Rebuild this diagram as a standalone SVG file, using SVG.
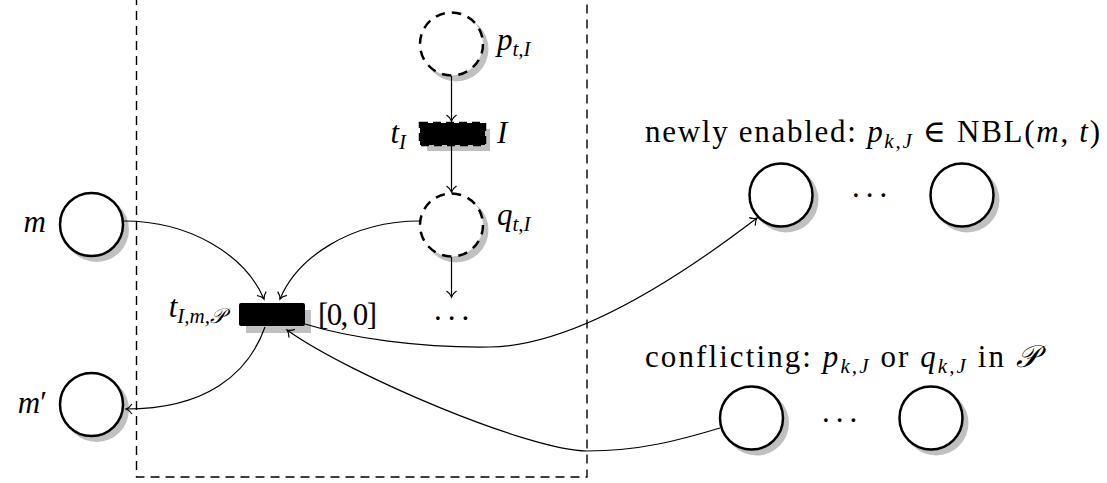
<svg xmlns="http://www.w3.org/2000/svg" width="1107" height="483" viewBox="0 0 1107 483">
<style>
text{font-family:"Liberation Serif","DejaVu Serif",serif;font-size:31px;fill:#000}
.it{font-style:italic}
.sub{font-size:21px;font-style:italic}
.end{text-anchor:end}
.place{fill:#fff;stroke:#000;stroke-width:2.5}
.dplace{fill:#fff;stroke:#000;stroke-width:2.5;stroke-dasharray:9.5 7}
.shadow{fill:#c0c0c0;stroke:none}
.edge{fill:none;stroke:#000;stroke-width:1.2;marker-end:url(#to)}
.box{fill:none;stroke:#000;stroke-width:1.4;stroke-dasharray:9 6}
.dots{letter-spacing:6px}
</style>
<defs>
<marker id="to" viewBox="-8 -7 10 14" refX="0" refY="0" markerWidth="10" markerHeight="14" markerUnits="userSpaceOnUse" orient="auto">
<path d="M-6,-5 C-4,-2 -1.5,-0.5 0,0 C-1.5,0.5 -4,2 -6,5" fill="none" stroke="#000" stroke-width="1.2"/>
</marker>
</defs>
<rect class="box" x="136.5" y="-10" width="450.5" height="487"/>

<g id="p_tI">
<circle class="shadow" cx="456" cy="49" r="32.5"/>
<circle class="dplace" cx="451.5" cy="44" r="31.5"/>
<text x="497" y="50"><tspan class="it">p</tspan><tspan class="sub" dy="6">t,I</tspan></text>
</g>
<g id="t_I">
<rect class="shadow" x="427" y="129" width="63" height="22"/>
<rect x="420" y="123" width="65" height="22" fill="#000" stroke="#000" stroke-width="2.5" stroke-dasharray="8 5"/>
<text x="406" y="143" class="end"><tspan class="it">t</tspan><tspan class="sub" dy="6">I</tspan></text>
<text x="497" y="143" class="it">I</text>
</g>
<g id="q_tI">
<circle class="shadow" cx="456" cy="230" r="32.5"/>
<circle class="dplace" cx="451.5" cy="225" r="31.5"/>
<text x="497" y="225"><tspan class="it">q</tspan><tspan class="sub" dy="6">t,I</tspan></text>
</g>
<g id="dots_q">
<text x="434" y="320" class="dots">...</text>
</g>
<g id="m">
<circle class="shadow" cx="96.5" cy="229.5" r="32.5"/>
<circle class="place" cx="91.5" cy="224.5" r="31.5"/>
<text x="46" y="232" class="it end">m</text>
</g>
<g id="m_prime">
<circle class="shadow" cx="96.5" cy="409.5" r="32.5"/>
<circle class="place" cx="91.5" cy="404.5" r="31.5"/>
<text x="47" y="413" class="end"><tspan class="it">m</tspan>′</text>
</g>
<g id="t_ImP">
<rect class="shadow" x="246" y="310" width="65" height="23"/>
<rect x="239" y="303" width="66" height="23" rx="2" fill="#000"/>
<text x="225" y="317" class="end"><tspan class="it">t</tspan><tspan class="sub" dy="6">I,m,𝒫</tspan></text>
<text x="318" y="325" textLength="59" lengthAdjust="spacing">[0, 0]</text>
</g>
<g id="newly">
<text x="645" y="142" textLength="455" lengthAdjust="spacing">newly enabled: <tspan class="it">p</tspan><tspan class="sub" dy="6">k,J</tspan><tspan dy="-6"> ∈ NBL(</tspan><tspan class="it">m</tspan>, <tspan class="it">t</tspan>)</text>
<circle class="shadow" cx="786" cy="200" r="32.5"/>
<circle class="place" cx="781" cy="195" r="31.5"/>
<text x="852" y="197" class="dots">...</text>
<circle class="shadow" cx="967" cy="200" r="32.5"/>
<circle class="place" cx="962" cy="195" r="31.5"/>
</g>
<g id="conflicting">
<text x="645" y="367" textLength="393" lengthAdjust="spacing">conflicting: <tspan class="it">p</tspan><tspan class="sub" dy="6">k,J</tspan><tspan dy="-6"> or </tspan><tspan class="it">q</tspan><tspan class="sub" dy="6">k,J</tspan><tspan dy="-6"> in </tspan><tspan class="it">𝒫</tspan></text>
<circle class="shadow" cx="756.5" cy="423" r="32.5"/>
<circle class="place" cx="751.5" cy="418" r="31.5"/>
<text x="822" y="422" class="dots">...</text>
<circle class="shadow" cx="936" cy="423" r="32.5"/>
<circle class="place" cx="931" cy="418" r="31.5"/>
</g>

<g id="connectors">
<path class="edge" d="M451.5,76 L451.5,121"/>
<path class="edge" d="M451.5,146 L451.5,192"/>
<path class="edge" d="M451.5,257 L451.5,297"/>
<path class="edge" d="M124,221 C190,221 245,255 264,299"/>
<path class="edge" d="M420,221 C350,221 297,258 280,299"/>
<path class="edge" d="M265,327 C248,375 205,409 126,409"/>
<path class="edge" d="M305,324 C350,338 420,348 490,347 C560,346 650,300 757,218"/>
<path class="edge" d="M720,428 C680,440 640,451 587,451 C530,451 350,375 287,330"/>
</g>
</svg>
